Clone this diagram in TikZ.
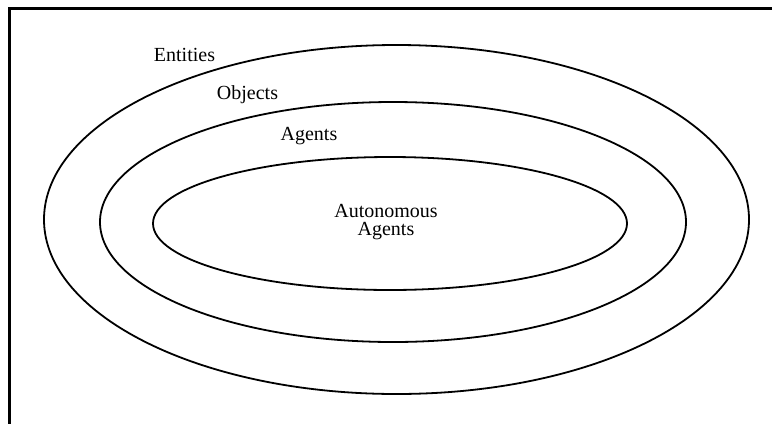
\documentclass[tikz,border=0pt]{standalone}
\usepackage{fontspec}
\setmainfont{Liberation Serif}
\usetikzlibrary{shapes.geometric}
\begin{document}
\begin{tikzpicture}[x=0.5pt,y=-0.5pt,
  ring/.style={ellipse,draw,line width=0.9pt,inner sep=0pt},
  tag/.style={font=\fontsize{10}{12}\selectfont,inner sep=0pt}]
  \useasboundingbox (0,0) rectangle (772,424);
  % frame, cut at the right and bottom
  \draw[line width=1.3pt] (772,8.5) -- (9.5,8.5) -- (9.5,424);
  \foreach \n/\cx/\cy/\w/\h in {
    entities/396.5/219.5/352.5/174.5,
    objects/393/222/293/120,
    agents/390/223.5/237/66.5}{
      \node[ring,minimum width=\w pt,minimum height=\h pt] (\n) at (\cx,\cy) {};
  }
  \node[tag] (entitieslbl) at (184.5,55) {Entities};
  \node[tag] (objectslbl) at (247.5,95) {Objects};
  \node[tag] (agentslbl) at (309,136) {Agents};
  \node[tag,align=center] (autolbl) at (386,222) {Autonomous\\[-3pt]Agents};
\end{tikzpicture}
\end{document}
